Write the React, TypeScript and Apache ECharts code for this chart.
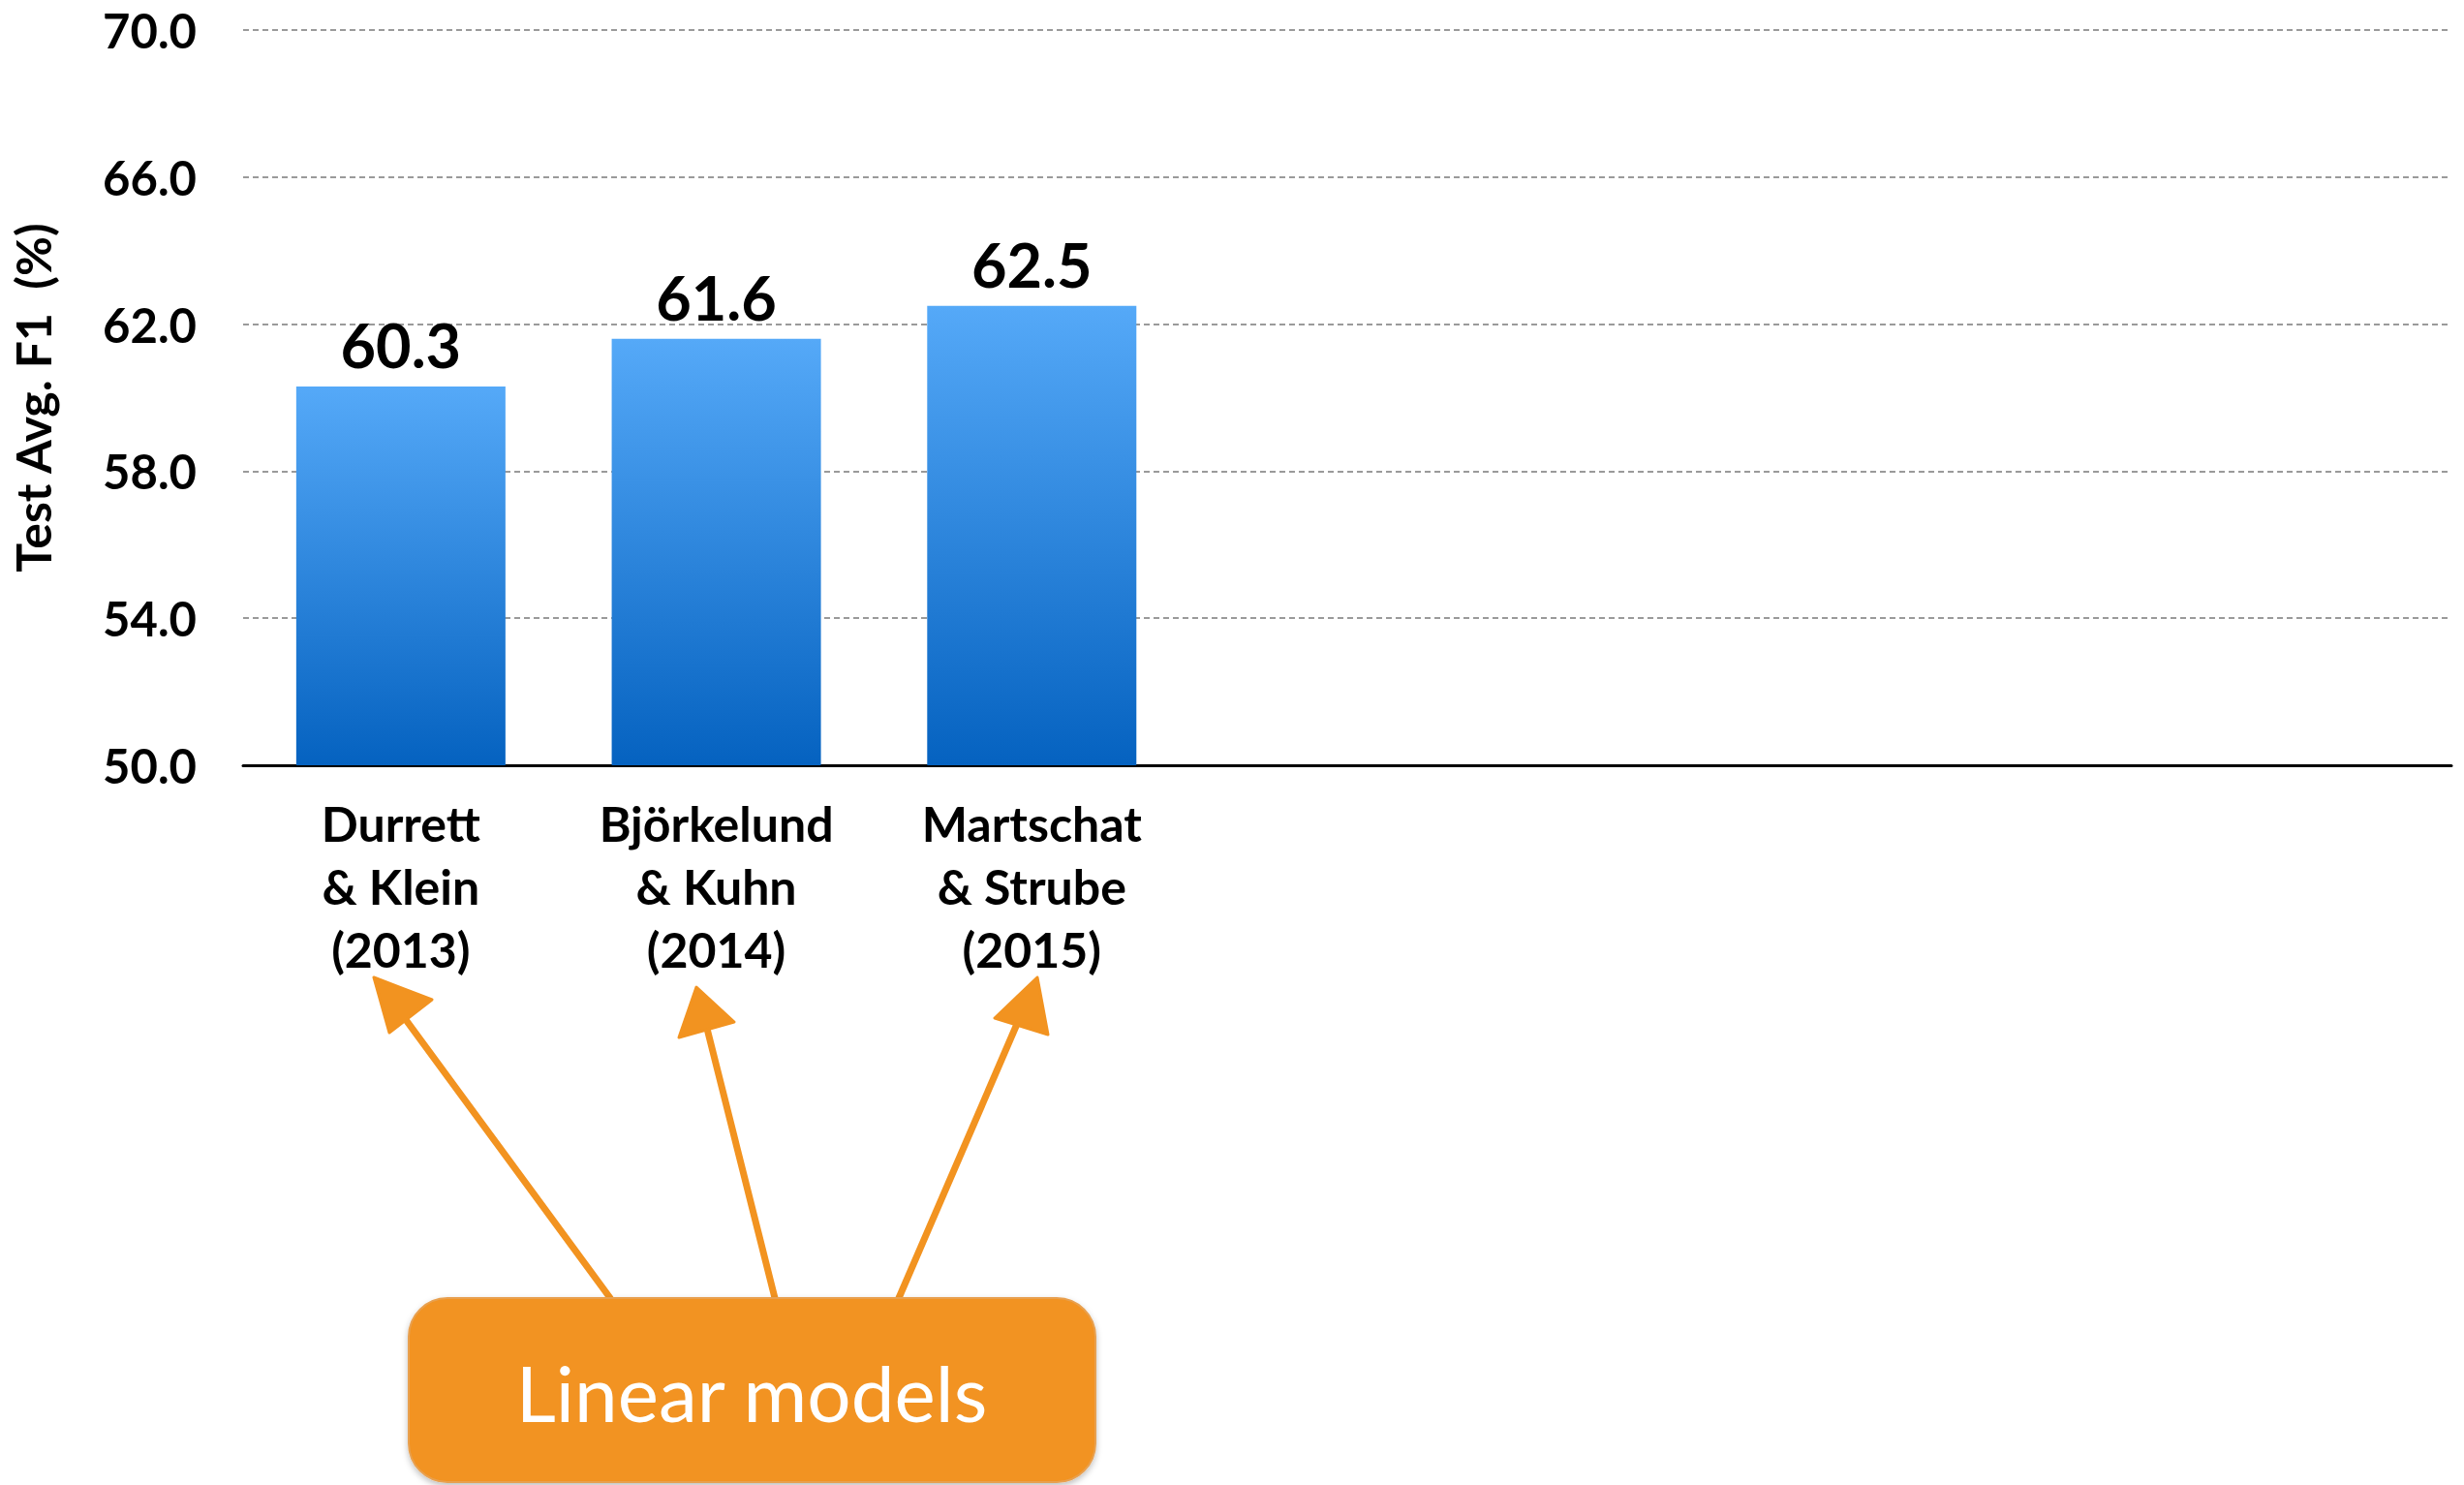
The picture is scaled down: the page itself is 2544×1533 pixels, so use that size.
import React, { useEffect, useRef } from "react";
import * as echarts from "echarts";

const categories = [
  "Durrett\n& Klein\n(2013)",
  "Björkelund\n& Kuhn\n(2014)",
  "Martschat\n& Strube\n(2015)",
  "",
  "",
  "",
  "",
];
const scores = [60.3, 61.6, 62.5, null, null, null, null];
const yMin = 50;
const yMax = 70;
const yStep = 4;
const yAxisTitle = "Test Avg. F1  (%)";
const annotationText = "Linear models";

const FONT = "Lato, 'Open Sans', sans-serif";
const ORANGE = "#F29320";

export default function App() {
  const ref = useRef<HTMLDivElement>(null);
  useEffect(() => {
    if (!ref.current) return;
    const chart = echarts.init(ref.current, null, { renderer: "svg" });
    const arrows = [
      { from: [630, 1340], to: [392, 1016], head: [[386, 1009], [446, 1032], [402, 1066]] },
      { from: [800, 1340], to: [722, 1030], head: [[719, 1019], [701, 1071], [758, 1055]] },
      { from: [928, 1340], to: [1066, 1020], head: [[1071, 1009], [1027, 1051], [1082, 1068]] },
    ];
    const arrowEls: any[] = [];
    arrows.forEach((a) => {
      arrowEls.push({
        type: "line",
        shape: { x1: a.from[0], y1: a.from[1], x2: a.to[0], y2: a.to[1] },
        style: { stroke: ORANGE, lineWidth: 7, lineCap: "round" },
        z: 10,
      });
      arrowEls.push({
        type: "polygon",
        shape: { points: a.head },
        style: { fill: ORANGE, stroke: ORANGE, lineWidth: 3, lineJoin: "round" },
        z: 10,
      });
    });
    chart.setOption({
      animation: false,
      backgroundColor: "#ffffff",
      grid: { left: 251, right: 13, top: 31, bottom: 743, containLabel: false },
      xAxis: {
        type: "category",
        data: categories,
        axisLine: { show: true, lineStyle: { color: "#000000", width: 3 } },
        axisTick: { show: false },
        axisLabel: {
          interval: 0,
          margin: 27,
          color: "#000000",
          fontFamily: FONT,
          fontWeight: "bold",
          fontSize: 50,
          lineHeight: 65,
        },
        splitLine: { show: false },
      },
      yAxis: {
        type: "value",
        min: yMin,
        max: yMax,
        interval: yStep,
        name: yAxisTitle,
        nameLocation: "middle",
        nameRotate: 90,
        nameGap: 192,
        nameTextStyle: {
          color: "#000000",
          fontFamily: FONT,
          fontWeight: "bold",
          fontSize: 50,
        },
        axisLine: { show: false },
        axisTick: { show: false },
        axisLabel: {
          margin: 48,
          color: "#000000",
          fontFamily: FONT,
          fontWeight: "bold",
          fontSize: 49,
          formatter: (v: number) => v.toFixed(1),
        },
        splitLine: {
          show: true,
          lineStyle: { color: "#9a9a9a", width: 2, type: [6, 4] },
        },
      },
      series: [
        {
          type: "bar",
          data: scores,
          barWidth: 216,
          itemStyle: {
            color: new echarts.graphic.LinearGradient(0, 0, 0, 1, [
              { offset: 0, color: "#55A9F8" },
              { offset: 1, color: "#0562C0" },
            ]),
          },
          label: {
            show: true,
            position: "top",
            distance: 12,
            color: "#000000",
            fontFamily: FONT,
            fontWeight: "bold",
            fontSize: 63,
            formatter: (p: any) => (p.value == null ? "" : Number(p.value).toFixed(1)),
          },
        },
      ],
      graphic: [
        ...arrowEls,
        {
          type: "rect",
          shape: { x: 422, y: 1340, width: 709, height: 190, r: 40 },
          style: {
            fill: ORANGE,
            stroke: "#e8a050",
            lineWidth: 2,
            shadowColor: "rgba(0,0,0,0.25)",
            shadowBlur: 6,
            shadowOffsetY: 3,
          },
          z: 11,
        },
        {
          type: "text",
          x: 776,
          y: 1437,
          style: {
            text: annotationText,
            fill: "#ffffff",
            font: `400 80px ${FONT}`,
            align: "center",
            verticalAlign: "middle",
          },
          z: 12,
        },
      ],
    });
    return () => chart.dispose();
  }, []);
  return (
    <div
      ref={ref}
      style={{ position: "fixed", left: 0, top: 0, width: 2544, height: 1533 }}
    />
  );
}
